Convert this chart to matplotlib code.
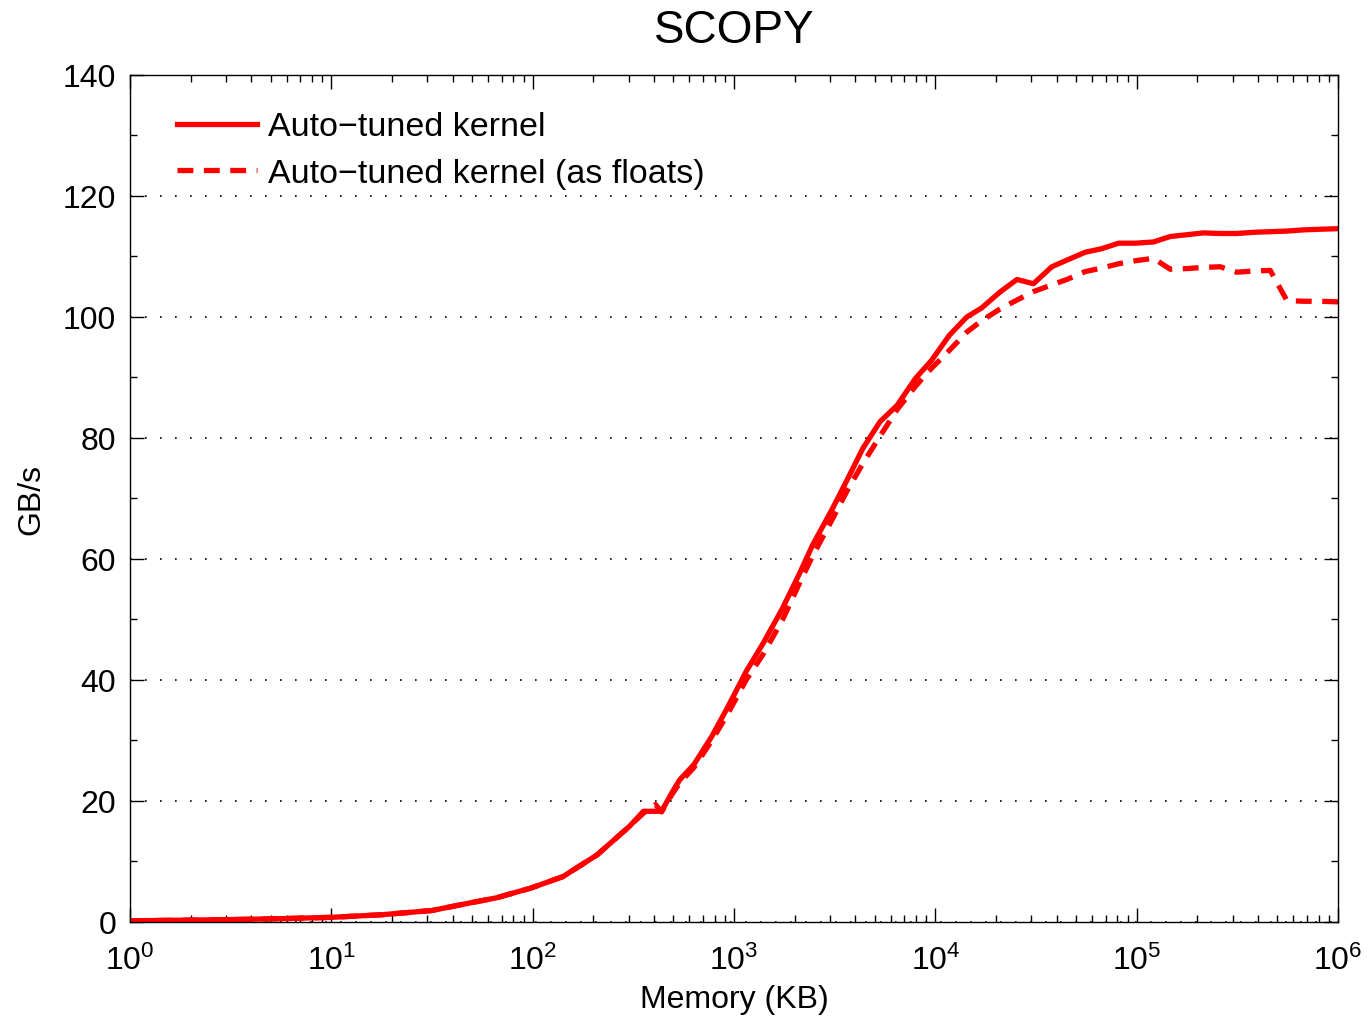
import numpy as np
import matplotlib
matplotlib.use("Agg")
import matplotlib.pyplot as plt
from matplotlib.ticker import LogLocator, MultipleLocator, NullFormatter

plt.rcParams['font.family'] = ['Liberation Sans', 'DejaVu Sans']
plt.rcParams['mathtext.fontset'] = 'custom'
plt.rcParams['mathtext.rm'] = 'Liberation Sans'
plt.rcParams['mathtext.it'] = 'Liberation Sans'

# log10 of memory size (KB) and bandwidth (GB/s)
solid_log10_kb = [0, 0.25, 0.5, 0.75, 1.0, 1.25, 1.5, 1.65, 1.82, 1.99, 2.15, 2.32, 2.48,
                  2.55, 2.64, 2.69, 2.73, 2.80, 2.89, 2.97, 3.06, 3.145, 3.24, 3.325, 3.39,
                  3.49, 3.565, 3.64, 3.725, 3.81, 3.90, 3.98, 4.07, 4.156, 4.23, 4.32, 4.405,
                  4.487, 4.578, 4.653, 4.744, 4.827, 4.91, 4.993, 5.083, 5.166, 5.249, 5.332,
                  5.415, 5.497, 5.58, 5.663, 5.746, 5.829, 5.91, 6.0]
solid_gbs = [0.2, 0.3, 0.4, 0.55, 0.77, 1.2, 1.9, 2.9, 4.0, 5.6, 7.5, 11.1, 15.8,
             18.3, 18.3, 21.3, 23.5, 26.0, 30.7, 35.6, 41.4, 46.1, 51.8, 57.6, 62.3,
             68.4, 73.3, 78.3, 82.7, 85.4, 89.8, 92.8, 97.0, 100.0, 101.5, 104.1, 106.2,
             105.5, 108.3, 109.4, 110.7, 111.3, 112.2, 112.2, 112.4, 113.3, 113.6, 113.9,
             113.8, 113.8, 114.0, 114.1, 114.2, 114.4, 114.5, 114.6]

dashed_log10_kb = [0, 0.25, 0.5, 0.75, 1.0, 1.25, 1.5, 1.65, 1.82, 1.99, 2.15, 2.32, 2.48,
                   2.55, 2.61, 2.64, 2.69, 2.73, 2.80, 2.89, 2.97, 3.06, 3.145, 3.24, 3.325,
                   3.39, 3.49, 3.565, 3.64, 3.725, 3.81, 3.90, 3.98, 4.07, 4.156, 4.23, 4.32,
                   4.405, 4.487, 4.578, 4.653, 4.744, 4.827, 4.91, 4.993, 5.083, 5.166, 5.249,
                   5.332, 5.415, 5.497, 5.58, 5.663, 5.746, 5.829, 5.91, 6.0]
dashed_gbs = [0.2, 0.3, 0.4, 0.55, 0.77, 1.2, 1.9, 2.9, 4.0, 5.6, 7.5, 11.1, 15.8,
              18.0, 19.4, 18.2, 21.0, 23.0, 25.5, 30.0, 34.5, 40.0, 44.3, 49.9, 56.0,
              60.5, 66.7, 71.5, 75.8, 80.3, 84.7, 88.5, 91.5, 94.5, 97.5, 99.4, 101.3,
              102.8, 104.2, 105.3, 106.2, 107.5, 108.1, 108.8, 109.3, 109.7, 107.9, 108.0,
              108.2, 108.3, 107.4, 107.6, 107.7, 102.7, 102.6, 102.6, 102.5]

y_ticks = [0, 20, 40, 60, 80, 100, 120, 140]
labels = ["Auto\u2212tuned kernel", "Auto\u2212tuned kernel (as floats)"]

solid_kb = 10 ** np.array(solid_log10_kb)
dashed_kb = 10 ** np.array(dashed_log10_kb)

fig = plt.figure(figsize=(13.69, 10.20), dpi=100)
ax = fig.add_axes([0.095, 0.0951, 0.8824, 0.8304])

ax.plot(solid_kb, solid_gbs, color='red', lw=3.8, label=labels[0], solid_joinstyle='round')
ax.plot(dashed_kb, dashed_gbs, color='red', lw=3.8, ls=(0, (3, 2)), label=labels[1])

ax.set_xscale('log')
ax.set_xlim(1, 1e6)
ax.set_ylim(0, 140)
ax.set_yticks(y_ticks)
ax.yaxis.set_minor_locator(MultipleLocator(10))
ax.xaxis.set_major_locator(LogLocator(base=10, numticks=10))
ax.xaxis.set_minor_locator(LogLocator(base=10, subs=np.arange(2, 10), numticks=100))
ax.xaxis.set_minor_formatter(NullFormatter())

ax.yaxis.grid(True, which='major', color='black', linestyle=(0, (1, 8)), lw=1.2)
ax.xaxis.grid(False)

ax.tick_params(which='both', direction='in', top=True, right=True, labelsize=23, width=1)
ax.tick_params(which='major', length=10)
ax.tick_params(which='minor', length=5)
ax.tick_params(axis='y', pad=10)
ax.tick_params(axis='x', pad=16)
for s in ax.spines.values():
    s.set_linewidth(1)

ax.set_title("SCOPY", fontsize=33, pad=24)
ax.set_xlabel("Memory (KB)", fontsize=23, labelpad=6)
ax.set_ylabel("GB/s", fontsize=23, labelpad=12)

leg = ax.legend(loc='upper left', fontsize=24.5, frameon=False, handlelength=2.35,
                borderaxespad=0, borderpad=0, labelspacing=0.45, handletextpad=0.35,
                bbox_to_anchor=(0.0385, 0.957))

fig.savefig("out.png", dpi=100)
